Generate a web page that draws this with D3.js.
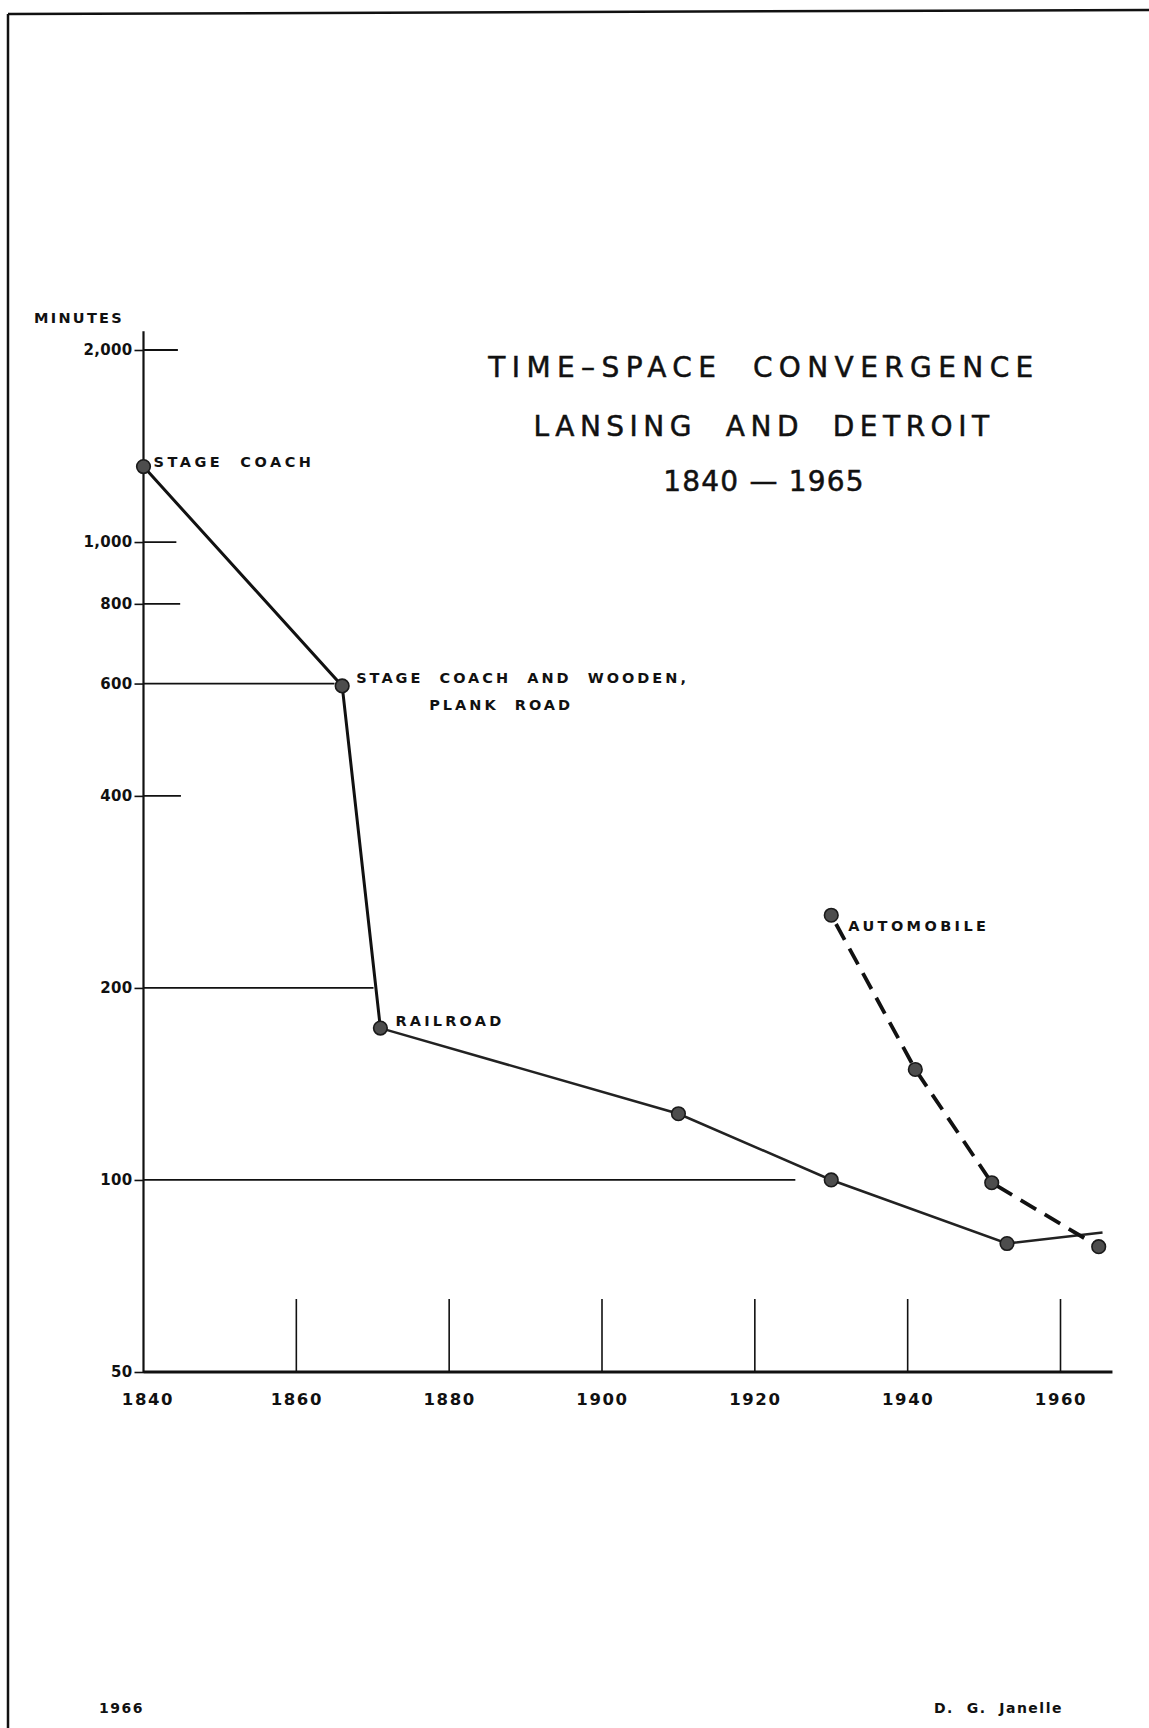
<!DOCTYPE html>
<html>
<head>
<meta charset="utf-8">
<script src="https://cdn.jsdelivr.net/npm/d3@7"></script>
<style>
  body { margin: 0; background: #fff; }
  svg text { font-family: "DejaVu Sans", sans-serif; fill: #111; }
</style>
</head>
<body>
<div id="chart"></div>
<script>
// minutes of travel between Lansing and Detroit

// main (stage coach / plank road / railroad) series
var mainYears  = [1840, 1866, 1871, 1910, 1930, 1953, 1965.5]
var mainValues = [1313, 595, 173, 127, 100, 79.5, 82.7]
var mainMarked = [true, true, true, true, true, true, false]

// automobile series
var autoYears  = [1930, 1941, 1951, 1965]
var autoValues = [260, 149, 99, 78.6]

// axis ticks
var yTicks = [2000, 1000, 800, 600, 400, 200, 100, 50]
var xTicks = [1840, 1860, 1880, 1900, 1920, 1940, 1960]
// year to which each horizontal tick line reaches (hand drawn)
var yTickReach = [1844.5, 1844.3, 1844.8, 1865, 1844.9, 1870.1, 1925.3, 1840]

// point labels
var labels = [
  {series: "main", i: 0, lines: ["STAGE  COACH"]},
  {series: "main", i: 1, lines: ["STAGE  COACH  AND  WOODEN,", "PLANK  ROAD"]},
  {series: "main", i: 2, lines: ["RAILROAD"]},
  {series: "auto", i: 0, lines: ["AUTOMOBILE"]}
]

var W = 1149, H = 1728

var svg = d3.select("#chart")
  .append("svg")
    .attr("width", W)
    .attr("height", H)

// scales
var x = d3.scaleLinear()
  .domain([1840, 1960])
  .range([143.5, 1060.5])

var y = d3.scaleLog()
  .domain([50, 2000])
  .range([1372, 350])

// page frame (left and top edges of the sheet)
svg.append("line")
  .attr("x1", 8).attr("y1", 14).attr("x2", 8).attr("y2", H)
  .attr("stroke", "#111").attr("stroke-width", 2.5)
svg.append("line")
  .attr("x1", 8).attr("y1", 14).attr("x2", W).attr("y2", 10)
  .attr("stroke", "#111").attr("stroke-width", 2.5)

// y axis labels with small left dashes
var yAxis = svg.append("g")
  .attr("transform", "translate(" + x(1840) + ",0)")
  .call(d3.axisLeft(y).tickValues(yTicks).tickFormat(d3.format(",")).tickSize(9).tickPadding(2))
yAxis.select(".domain").remove()
yAxis.selectAll("line").attr("stroke", "#111").attr("stroke-width", 1.6)
yAxis.selectAll("text")
  .style("font-size", "15px")
  .style("font-weight", "bold")
  .style("letter-spacing", "0.3px")
  .attr("fill", "#111")

// horizontal tick lines to the right of the axis
svg.append("g")
  .selectAll("line")
  .data(yTicks.map(function(v, i) { return {v: v, reach: yTickReach[i]}; }))
  .enter().append("line")
    .attr("x1", x(1840))
    .attr("x2", function(d) { return x(d.reach); })
    .attr("y1", function(d) { return y(d.v); })
    .attr("y2", function(d) { return y(d.v); })
    .attr("stroke", "#111")
    .attr("stroke-width", 1.8)

// axis lines
svg.append("line")
  .attr("x1", x(1840)).attr("x2", x(1840))
  .attr("y1", y(2140)).attr("y2", y(50) + 1)
  .attr("stroke", "#111").attr("stroke-width", 2.2)
svg.append("line")
  .attr("x1", x(1840)).attr("x2", x(1966.8))
  .attr("y1", y(50)).attr("y2", y(50))
  .attr("stroke", "#111").attr("stroke-width", 2.8)

// tall year ticks rising from the x axis
svg.append("g")
  .selectAll("line")
  .data(xTicks.slice(1))
  .enter().append("line")
    .attr("x1", function(d) { return x(d); })
    .attr("x2", function(d) { return x(d); })
    .attr("y1", y(50))
    .attr("y2", y(50) - 73)
    .attr("stroke", "#111")
    .attr("stroke-width", 1.6)

// year labels
var xAxis = svg.append("g")
  .attr("transform", "translate(0," + y(50) + ")")
  .call(d3.axisBottom(x).tickValues(xTicks).tickFormat(d3.format("d")).tickSize(0).tickPadding(21))
xAxis.select(".domain").remove()
xAxis.selectAll("text")
  .style("font-size", "16.5px")
  .style("font-weight", "bold")
  .style("letter-spacing", "1.6px")
  .attr("dx", function(d) { return d === 1840 ? 4 : 0; })
  .attr("fill", "#111")

// axis title
svg.append("text")
  .attr("x", 34).attr("y", 323)
  .style("font-size", "14.5px")
  .style("font-weight", "bold")
  .style("letter-spacing", "2.3px")
  .text("MINUTES")

// chart title
var titleLines = ["TIME\u2013SPACE  CONVERGENCE", "LANSING  AND  DETROIT", "1840 \u2014 1965"]
var titleBase = [377, 436, 491]
var titleSpacing = [6.4, 5.5, 1.2]
svg.append("g")
  .selectAll("text")
  .data(titleLines)
  .enter().append("text")
    .attr("x", 764)
    .attr("y", function(d, i) { return titleBase[i]; })
    .attr("text-anchor", "middle")
    .style("font-size", "28px")
    .style("letter-spacing", function(d, i) { return titleSpacing[i] + "px"; })
    .style("white-space", "pre")
    .attr("stroke", "#111")
    .attr("stroke-width", 0.5)
    .text(function(d) { return d; })

// lines
var line = d3.line()
  .x(function(d) { return x(d.year); })
  .y(function(d) { return y(d.value); })

var mainData = mainYears.map(function(yr, i) { return {year: yr, value: mainValues[i], marked: mainMarked[i]}; })
var autoData = autoYears.map(function(yr, i) { return {year: yr, value: autoValues[i], marked: true}; })

svg.append("path")
  .datum(mainData.slice(0, 3))
  .attr("d", line)
  .attr("fill", "none")
  .attr("stroke", "#111")
  .attr("stroke-width", 3)
svg.append("path")
  .datum(mainData.slice(2))
  .attr("d", line)
  .attr("fill", "none")
  .attr("stroke", "#222")
  .attr("stroke-width", 2.5)

svg.append("path")
  .datum(autoData)
  .attr("d", line)
  .attr("fill", "none")
  .attr("stroke", "#111")
  .attr("stroke-width", 3.8)
  .attr("stroke-dasharray", "18,10")
  .attr("stroke-dashoffset", -10)

// markers
svg.append("g")
  .selectAll("circle")
  .data(mainData.concat(autoData).filter(function(d) { return d.marked; }))
  .enter().append("circle")
    .attr("cx", function(d) { return x(d.year); })
    .attr("cy", function(d) { return y(d.value); })
    .attr("r", 6.8)
    .attr("fill", "#4d4d4d")
    .attr("stroke", "#1a1a1a")
    .attr("stroke-width", 1.6)

// point labels
var labelOffset = {
  "main0": [10, 0], "main1": [14, -3], "main2": [15, -2], "auto0": [17, 16]
}
var labelSpacing = {"main0": 3.5, "main1": 3, "main2": 3.2, "auto0": 3.4}
labels.forEach(function(l) {
  var d = (l.series === "main" ? mainData : autoData)[l.i]
  var key = l.series + l.i
  var t = svg.append("text")
    .attr("x", x(d.year) + labelOffset[key][0])
    .attr("y", y(d.value) + labelOffset[key][1])
    .style("font-size", "14.5px")
    .style("font-weight", "bold")
    .style("letter-spacing", labelSpacing[key] + "px")
    .style("white-space", "pre")
  l.lines.forEach(function(s, j) {
    t.append("tspan")
      .attr("x", x(d.year) + labelOffset[key][0] + (j > 0 ? 73 : 0))
      .attr("dy", j > 0 ? 27.5 : 0)
      .text(s)
  })
})

// footer
svg.append("text")
  .attr("x", 99).attr("y", 1713)
  .style("font-size", "14px")
  .style("font-weight", "bold")
  .style("letter-spacing", "1.5px")
  .text("1966")
svg.append("text")
  .attr("x", 934).attr("y", 1713)
  .style("font-size", "14px")
  .style("font-weight", "bold")
  .style("letter-spacing", "1.5px")
  .style("white-space", "pre")
  .text("D.  G.  Janelle")
</script>
</body>
</html>
